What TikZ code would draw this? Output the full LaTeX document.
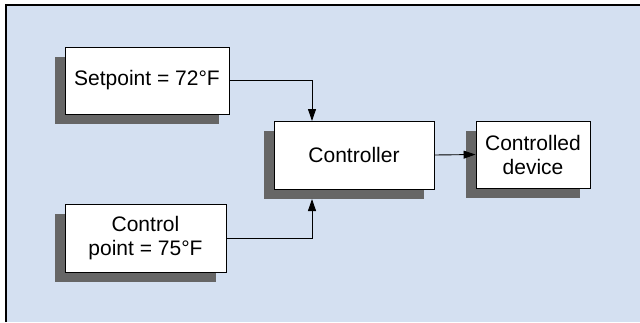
\documentclass[tikz,border=0pt]{standalone}
\usepackage{fontspec}
\setmainfont{Liberation Sans}
\usetikzlibrary{arrows.meta}
\definecolor{bgblue}{RGB}{212,224,241}
\definecolor{shadowgray}{RGB}{102,102,102}
\tikzset{
  blockbox/.style={draw=black, line width=0.9pt, fill=white, inner sep=0pt, align=center,
    font=\fontsize{21}{24}\selectfont},
  conn/.style={line width=0.9pt, -{Triangle[length=12pt,width=8pt]}},
}
\newcommand{\shadowbox}[6]{% name, x1,y1,x2,y2, text
  \fill[shadowgray] (#2-10,#3+10) rectangle (#4-10,#5+10);
  \node[blockbox, minimum width={(#4-#2)*1pt}, minimum height={(#5-#3)*1pt}] (#1) at ({(#2+#4)/2},{(#3+#5)/2}) {#6};
}
\begin{document}
\begin{tikzpicture}[x=1pt,y=-1pt]
\useasboundingbox (0,0) rectangle (640,322);
\fill[bgblue] (6,5) rectangle (640,322);
\draw[line width=2pt] (6,322) -- (6,5) -- (640,5);
\shadowbox{sp}{65}{47}{229}{114}{Setpoint = 72°F}
\shadowbox{ctl}{274}{121}{434}{189}{Controller}
\shadowbox{dev}{476}{121}{590}{188}{Controlled\\device}
\shadowbox{cp}{65}{204}{226}{272}{Control\\point = 75°F}
\coordinate (ctltop) at (312,121);
\coordinate (ctlbot) at (312,199);
\draw[conn] (sp.east) -| (ctltop);
\draw[conn] (cp.east) -| (ctlbot);
\draw[conn] (ctl.east) -- (dev.west);
\end{tikzpicture}
\end{document}
